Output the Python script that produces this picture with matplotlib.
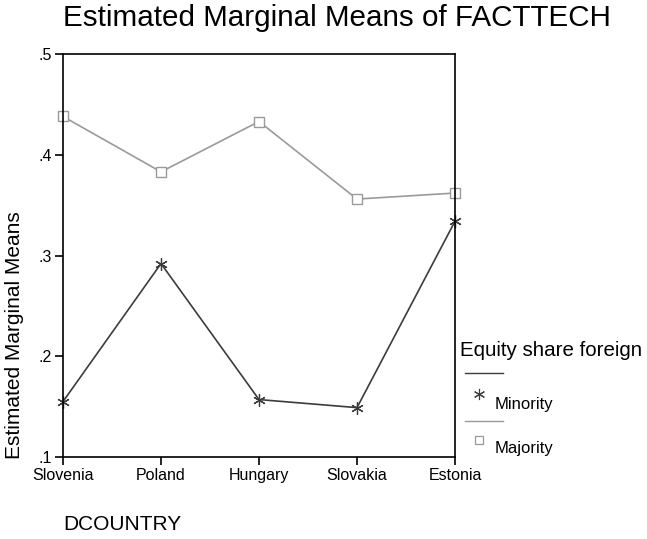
import matplotlib
matplotlib.use("Agg")
import matplotlib.pyplot as plt
from matplotlib.lines import Line2D
from matplotlib.ticker import FuncFormatter

countries = ["Slovenia", "Poland", "Hungary", "Slovakia", "Estonia"]
minority = [0.155, 0.292, 0.157, 0.149, 0.334]
majority = [0.438, 0.383, 0.433, 0.356, 0.362]
yticks = [0.1, 0.2, 0.3, 0.4, 0.5]

plt.rcParams['font.family'] = ['Liberation Sans', 'DejaVu Sans']

fig = plt.figure(figsize=(6.47, 5.39), dpi=100)
ax = fig.add_axes([63/647, 1-457/539, (455-63)/647, (457-54)/539])

c_min = "#3c3c3c"
c_maj = "#9a9a9a"
x = list(range(len(countries)))
ax.plot(x, minority, color=c_min, lw=1.2, marker=(6, 2, 0), ms=9, mew=0.9, clip_on=False)
ax.plot(x, majority, color=c_maj, lw=1.2, marker="s", ms=7, mfc="white", mec=c_maj, mew=1.0, clip_on=False)

ax.set_xlim(0, 4)
ax.set_ylim(0.1, 0.5)
ax.set_xticks(x)
ax.set_xticklabels(countries, fontsize=11.5)
ax.set_yticks(yticks)
ax.yaxis.set_major_formatter(FuncFormatter(lambda v, p: ("%.1f" % v).lstrip("0")))
ax.tick_params(axis='y', labelsize=11.5, length=6, width=1.2, direction='out', pad=2)
ax.tick_params(axis='x', length=6, width=1.2, direction='out', pad=2)
for s in ax.spines.values():
    s.set_linewidth(1.2)
    s.set_color("black")

fig.text(63/647, 1-18/539, "Estimated Marginal Means of FACTTECH", ha="left", va="center", fontsize=21.3)
fig.text(15/647, 1-335/539, "Estimated Marginal Means", rotation=90, ha="center", va="center", fontsize=15)
fig.text(63/647, 1-525/539, "DCOUNTRY", ha="left", va="center", fontsize=15)

# legend (manual, outside the axes)
fig.text(460/647, 1-350/539, "Equity share foreign", ha="left", va="center", fontsize=14.8)
fig.add_artist(Line2D([465/647, 503/647], [1-373/539, 1-373/539], color=c_min, lw=1.0, transform=fig.transFigure))
fig.add_artist(Line2D([479/647], [1-394/539], color=c_min, marker=(6, 2, 0), ms=8, mew=0.8, ls="none", transform=fig.transFigure))
fig.text(495/647, 1-404/539, "Minority", ha="left", va="center", fontsize=12)
fig.add_artist(Line2D([465/647, 503/647], [1-421/539, 1-421/539], color=c_maj, lw=1.0, transform=fig.transFigure))
fig.add_artist(Line2D([479/647], [1-440/539], color=c_maj, marker="s", ms=6, mfc="white", mec=c_maj, mew=0.9, ls="none", transform=fig.transFigure))
fig.text(495/647, 1-449/539, "Majority", ha="left", va="center", fontsize=12)

fig.savefig("out.png", dpi=100)
